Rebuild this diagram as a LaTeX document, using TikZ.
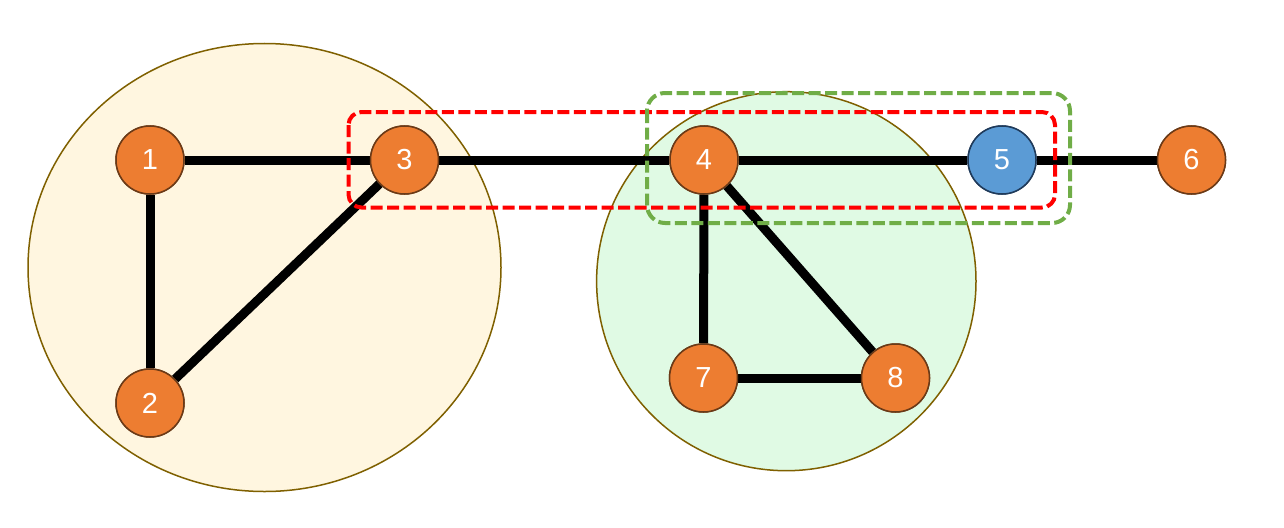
\documentclass[tikz,border=0pt]{standalone}
\usepackage{fontspec}
\setmainfont{Liberation Sans}
\definecolor{nodeor}{HTML}{ED7D31}
\definecolor{nodeorb}{HTML}{6B3A17}
\definecolor{nodebl}{HTML}{5B9BD5}
\definecolor{nodeblb}{HTML}{1F3A5A}
\definecolor{clyel}{HTML}{FFF6E0}
\definecolor{clgrn}{HTML}{E0FAE4}
\definecolor{clbord}{HTML}{7F6000}
\definecolor{grpred}{HTML}{FF0000}
\definecolor{grpgrn}{HTML}{70AD47}
\tikzset{
  vert/.style={circle, draw=nodeorb, fill=nodeor, line width=1.5pt, minimum size=68pt, inner sep=0pt, text=white, font=\fontsize{29}{29}\selectfont},
  vertb/.style={vert, draw=nodeblb, fill=nodebl},
  edge/.style={line width=9pt},
  cluster/.style={draw=clbord, line width=1.5pt},
  grpbox/.style={line width=4pt, dash pattern=on 12pt off 4.5pt}
}
\begin{document}
\begin{tikzpicture}[x=1pt,y=-1pt]
\useasboundingbox (0,0) rectangle (1284,527);
% clusters
\path[cluster, fill=clyel] (264.5,267.5) ellipse [x radius=236.5, y radius=224];
\path[cluster, fill=clgrn] (786.3,281.2) ellipse [x radius=189.7, y radius=189.5];
% nodes (positions)
\node[vert]  (n1) at (150,160) {1};
\node[vert]  (n2) at (150,403) {2};
\node[vert]  (n3) at (404.5,160) {3};
\node[vert]  (n4) at (704,160) {4};
\node[vertb] (n5) at (1002,160) {5};
\node[vert]  (n6) at (1191.5,160) {6};
\node[vert]  (n7) at (703.5,378) {7};
\node[vert]  (n8) at (895.5,378) {8};
% edges
\draw[edge] (n1) -- (n3);
\draw[edge] (n1) -- (n2);
\draw[edge] (n2) -- (n3);
\draw[edge] (n3) -- (n4);
\draw[edge] (n4) -- (n5);
\draw[edge] (n5) -- (n6);
\draw[edge] (n4) -- (n7);
\draw[edge] (n4) -- (n8);
\draw[edge] (n7) -- (n8);
% redraw nodes on top
\node[vert]  at (n1) {1};
\node[vert]  at (n2) {2};
\node[vert]  at (n3) {3};
\node[vert]  at (n4) {4};
\node[vertb] at (n5) {5};
\node[vert]  at (n6) {6};
\node[vert]  at (n7) {7};
\node[vert]  at (n8) {8};
% groups
\draw[grpbox, draw=grpred, rounded corners=13pt] (348.5,112) rectangle (1055,207.5);
\draw[grpbox, draw=grpgrn, rounded corners=18pt] (647,93) rectangle (1070,223);
\end{tikzpicture}
\end{document}
